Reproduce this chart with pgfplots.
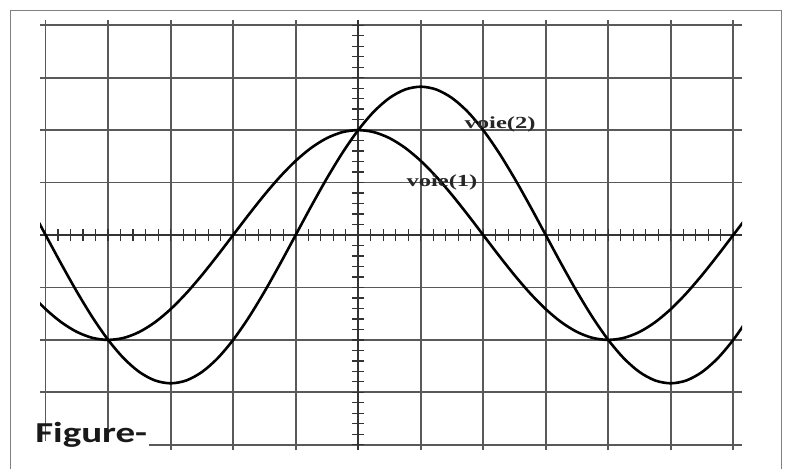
\documentclass[border=0pt]{standalone}
\usepackage{pgfplots}
\pgfplotsset{compat=1.18}
\usepackage{fontspec}
\setmainfont{Liberation Serif}
\newfontfamily\figfont{Carlito}

\pgfplotstableread{
x v1 v2
-5.25 -1.111 0.552
-5.00 -1.414 0.000
-4.75 -1.663 -0.552
-4.50 -1.848 -1.082
-4.25 -1.962 -1.571
-4.00 -2.000 -2.000
-3.75 -1.962 -2.352
-3.50 -1.848 -2.613
-3.25 -1.663 -2.774
-3.00 -1.414 -2.828
-2.75 -1.111 -2.774
-2.50 -0.765 -2.613
-2.25 -0.390 -2.352
-2.00 0.000 -2.000
-1.75 0.390 -1.571
-1.50 0.765 -1.082
-1.25 1.111 -0.552
-1.00 1.414 0.000
-0.75 1.663 0.552
-0.50 1.848 1.082
-0.25 1.962 1.571
0.00 2.000 2.000
0.25 1.962 2.352
0.50 1.848 2.613
0.75 1.663 2.774
1.00 1.414 2.828
1.25 1.111 2.774
1.50 0.765 2.613
1.75 0.390 2.352
2.00 0.000 2.000
2.25 -0.390 1.571
2.50 -0.765 1.082
2.75 -1.111 0.552
3.00 -1.414 0.000
3.25 -1.663 -0.552
3.50 -1.848 -1.082
3.75 -1.962 -1.571
4.00 -2.000 -2.000
4.25 -1.962 -2.352
4.50 -1.848 -2.613
4.75 -1.663 -2.774
5.00 -1.414 -2.828
5.25 -1.111 -2.774
5.50 -0.765 -2.613
5.75 -0.390 -2.352
6.00 0.000 -2.000
6.25 0.390 -1.571
}\signals

\begin{document}
\begin{tikzpicture}[x=1bp,y=1bp]
\useasboundingbox (0,0) rectangle (786,-469);
\fill[white] (0,0) rectangle (786,-469);
\draw[black!50, line width=1.6bp] (10.5,-480) -- (10.5,-10.5) -- (781.5,-10.5) -- (781.5,-480);
\begin{axis}[
  at={(40bp,-450bp)}, anchor=south west,
  scale only axis, width=702bp, height=430bp,
  xmin=-5.09, xmax=6.14, ymin=-4.1, ymax=4.1,
  axis lines=middle,
  axis line style={-, black!80, line width=1.6bp},
  every inner x axis line/.append style={-},
  every inner y axis line/.append style={-},
  xtick={-5,...,6}, ytick={-4,...,4},
  minor xtick={-5,-4.8,...,6.1},
  minor ytick={-4,-3.8,...,4.1},
  xticklabels={}, yticklabels={},
  tick align=center,
  major tick length=12bp, minor tick length=12bp,
  tick style={black!80, line width=1.3bp},
  grid=major,
  major grid style={black!65, line width=1.7bp},
  clip=true,
]
\addplot[black, line width=2.6bp, smooth] table[x=x, y=v1] {\signals};
\addplot[black, line width=2.6bp, smooth] table[x=x, y=v2] {\signals};
\node[xscale=1.45, text=black!85, inner sep=0] at (axis cs:2.27,2.1) {\fontsize{17}{17}\selectfont\bfseries voie(2)};
\node[xscale=1.45, text=black!85, inner sep=0] at (axis cs:1.34,1.0) {\fontsize{17}{17}\selectfont\bfseries voie(1)};
\end{axis}
\fill[white] (37,-440.5) rectangle (149,-449.5);
\node[anchor=base west, inner sep=0, xscale=1.35, text=black!90] at (35,-442) {\figfont\fontsize{29}{29}\selectfont\bfseries Figure-};
\end{tikzpicture}
\end{document}
